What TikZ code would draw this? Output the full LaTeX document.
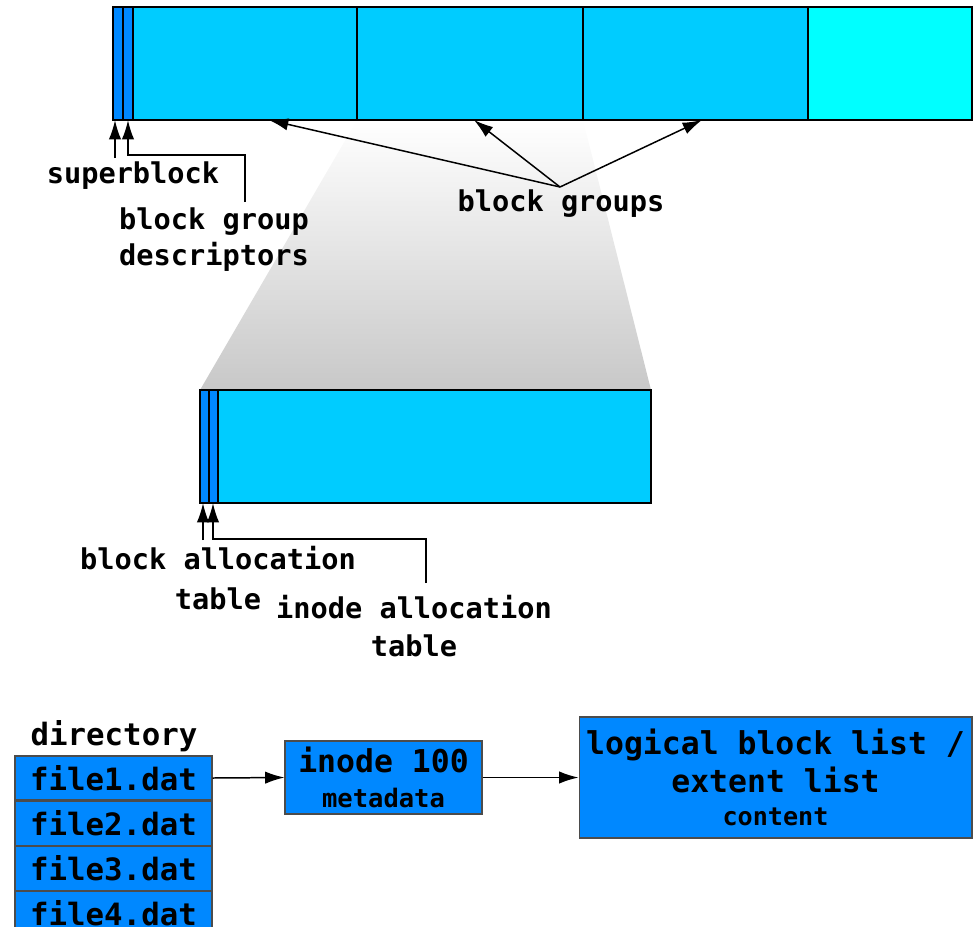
\documentclass[tikz,border=0pt]{standalone}
\usepackage{fontspec}
\setmonofont{DejaVu Sans Mono}
\usetikzlibrary{arrows.meta,positioning}
\definecolor{groupBlue}{RGB}{0,204,255}
\definecolor{freeCyan}{RGB}{0,255,255}
\definecolor{metaBlue}{RGB}{0,136,255}
\definecolor{zoomGray}{RGB}{200,200,200}

\begin{document}
\begin{tikzpicture}[x=0.02cm, y=-0.02cm,
    lbl/.style={font=\ttfamily\bfseries\fontsize{16.3}{20.4}\selectfont,
                inner sep=0pt, align=center},
    bar/.style={draw=black, line width=1.1pt},
    ptr/.style={line width=0.85pt, -{Latex[length=11pt,width=7pt]}},
    rowbox/.style={draw=black!70, fill=metaBlue, line width=0.6pt, inner sep=0pt,
                   minimum width=3.94cm, minimum height=0.88cm,
                   font=\ttfamily\bfseries\fontsize{17.5}{21}\selectfont},
    infobox/.style={draw=black!70, fill=metaBlue, line width=0.6pt, inner sep=0pt,
                    align=center, font=\ttfamily\bfseries\fontsize{17.9}{21.5}\selectfont}]
  \useasboundingbox (0,0) rectangle (979,926);

  % Zoom wedge from the second group down to its close-up
  \shade[top color=white, middle color=zoomGray!80, bottom color=zoomGray]
    (357,120) -- (583,120) -- (651,390) -- (200,390) -- cycle;

  % Whole disk
  \draw[bar, fill=metaBlue] (113,7) rectangle (123,120);
  \draw[bar, fill=metaBlue] (123,7) rectangle (133,120);
  \draw[bar, fill=groupBlue] (133,7) rectangle (357,120);
  \draw[bar, fill=groupBlue] (357,7) rectangle (583,120);
  \draw[bar, fill=groupBlue] (583,7) rectangle (808,120);
  \draw[bar, fill=freeCyan] (808,7) rectangle (972,120);

  % One block group
  \draw[bar, fill=metaBlue] (200,390) rectangle (209,503);
  \draw[bar, fill=metaBlue] (209,390) rectangle (218,503);
  \draw[bar, fill=groupBlue] (218,390) rectangle (651,503);

  % Labels of the disk
  \node[lbl] (superblock) at (133,176) {superblock};
  \node[lbl] (descriptors) at (214,240) {block group\\descriptors};
  \node[lbl] (groups) at (561,204) {block groups};

  \coordinate (sbTip) at (115,120);
  \coordinate (sbFoot) at (115,158);
  \coordinate (gdTip) at (128,120);
  \coordinate (gdBend) at (245,155);
  \coordinate (gdFoot) at (245,202);
  \coordinate (bgHub) at (560,187);
  \coordinate (bg1Tip) at (269,120);
  \coordinate (bg2Tip) at (474,120);
  \coordinate (bg3Tip) at (702,120);

  \draw[ptr] (sbFoot) -- (sbTip);
  \draw[ptr] (gdFoot) -- (gdBend) -| (gdTip);
  \draw[ptr] (bgHub) -- (bg1Tip);
  \draw[ptr] (bgHub) -- (bg2Tip);
  \draw[ptr] (bgHub) -- (bg3Tip);

  % Labels of the block group
  \node[lbl, font=\ttfamily\bfseries\fontsize{16.3}{22.7}\selectfont]
    (blockTable) at (218,578) {block allocation\\table};
  \node[lbl, font=\ttfamily\bfseries\fontsize{16.3}{21.5}\selectfont]
    (inodeTable) at (414,626) {inode allocation\\table};

  \coordinate (batTip) at (203,503);
  \coordinate (batFoot) at (203,540);
  \coordinate (iatTip) at (213,503);
  \coordinate (iatBend) at (426,539);
  \coordinate (iatFoot) at (426,583);

  \draw[ptr] (batFoot) -- (batTip);
  \draw[ptr] (iatFoot) -- (iatBend) -| (iatTip);

  % Directory, inode and content
  \node[font=\ttfamily\bfseries\fontsize{17.5}{21}\selectfont, inner sep=0pt]
    (directory) at (114,736) {directory};
  \node[rowbox] (file1) at (113.5,778) {file1.dat};
  \node[rowbox, below=0pt of file1] (file2) {file2.dat};
  \node[rowbox, below=0pt of file2] (file3) {file3.dat};
  \node[rowbox, below=0pt of file3] (file4) {file4.dat};

  \node[infobox, minimum width=3.94cm, minimum height=1.46cm]
    (inode) at (383.5,777.5)
    {inode 100\\[-2pt]{\fontsize{14.5}{17}\selectfont metadata}};
  \node[infobox, minimum width=7.86cm, minimum height=2.42cm]
    (content) at (775.5,777.5)
    {logical block list /\\extent list\\[-3pt]{\fontsize{14.3}{17}\selectfont content}};

  \draw[ptr] (file1.east) -- (inode.west);
  \draw[ptr] (inode.east) -- (content.west);
\end{tikzpicture}
\end{document}
